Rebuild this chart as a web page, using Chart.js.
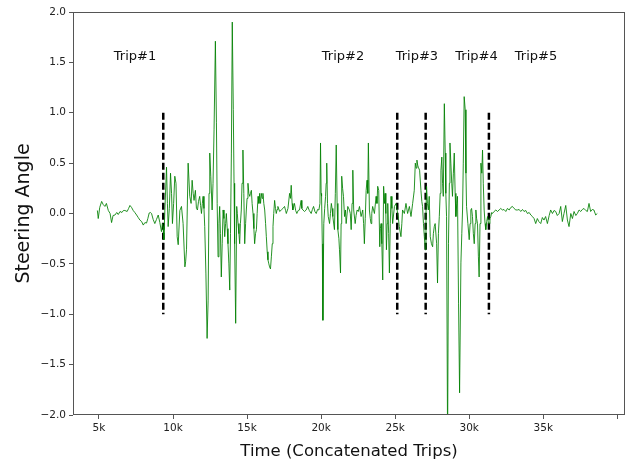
<!DOCTYPE html>
<html>
<head>
<meta charset="utf-8">
<script src="https://cdn.jsdelivr.net/npm/chart.js@4"></script>
<style>
  html, body { margin: 0; padding: 0; background: #fff; }
</style>
</head>
<body>
<canvas id="myChart" width="628" height="466"></canvas>
<script>
// time axis in thousands of samples
const timeK = [
  4.89, 4.95, 5.05, 5.18, 5.28, 5.4, 5.5, 5.63, 5.75, 5.85,
  5.95, 6.08, 6.2, 6.3, 6.42, 6.55, 6.65, 6.75, 6.9, 7.0,
  7.09, 7.2, 7.31, 7.42, 7.54, 7.65, 7.76, 7.88, 7.99, 8.1,
  8.21, 8.3, 8.39, 8.47, 8.55, 8.66, 8.77, 8.88, 9.0, 9.11,
  9.22, 9.28, 9.33, 9.38, 9.45, 9.56, 9.62, 9.67, 9.75, 9.83,
  9.9, 9.96, 10.04, 10.12, 10.2, 10.28, 10.35, 10.46, 10.57, 10.68,
  10.8, 10.85, 10.91, 11.02, 11.13, 11.22, 11.29, 11.36, 11.42, 11.51,
  11.58, 11.65, 11.72, 11.8, 11.86, 11.92, 11.98, 12.03, 12.09, 12.14,
  12.22, 12.3, 12.37, 12.43, 12.48, 12.55, 12.64, 12.7, 12.77, 12.86,
  12.93, 12.98, 13.04, 13.1, 13.15, 13.2, 13.26, 13.32, 13.38, 13.44,
  13.49, 13.55, 13.6, 13.66, 13.71, 13.77, 13.83, 13.88, 13.94, 14.0,
  14.07, 14.12, 14.16, 14.23, 14.3, 14.34, 14.39, 14.45, 14.5, 14.55,
  14.61, 14.66, 14.72, 14.78, 14.84, 14.9, 14.95, 15.0, 15.06, 15.12,
  15.18, 15.23, 15.29, 15.34, 15.4, 15.46, 15.51, 15.57, 15.63, 15.68,
  15.74, 15.8, 15.85, 15.91, 15.96, 16.02, 16.07, 16.13, 16.19, 16.25,
  16.3, 16.36, 16.41, 16.47, 16.52, 16.58, 16.64, 16.7, 16.75, 16.8,
  16.86, 16.92, 16.97, 17.03, 17.08, 17.2, 17.31, 17.42, 17.53, 17.6,
  17.65, 17.76, 17.87, 17.93, 17.98, 18.04, 18.09, 18.2, 18.28, 18.36,
  18.45, 18.54, 18.65, 18.7, 18.77, 18.88, 18.99, 19.1, 19.2, 19.33,
  19.41, 19.49, 19.58, 19.67, 19.76, 19.85, 19.92, 19.96, 20.0, 20.03,
  20.08, 20.12, 20.18, 20.24, 20.3, 20.34, 20.38, 20.43, 20.48, 20.57,
  20.63, 20.69, 20.74, 20.79, 20.9, 20.96, 21.02, 21.08, 21.13, 21.2,
  21.24, 21.31, 21.35, 21.39, 21.45, 21.51, 21.58, 21.64, 21.69, 21.8,
  21.91, 21.97, 22.03, 22.09, 22.14, 22.2, 22.3, 22.36, 22.43, 22.51,
  22.59, 22.7, 22.81, 22.87, 22.92, 22.98, 23.04, 23.1, 23.15, 23.19,
  23.26, 23.32, 23.37, 23.42, 23.48, 23.6, 23.71, 23.77, 23.82, 23.89,
  23.96, 24.0, 24.05, 24.1, 24.16, 24.22, 24.28, 24.32, 24.37, 24.41,
  24.46, 24.5, 24.56, 24.61, 24.67, 24.72, 24.78, 24.83, 24.95, 25.06,
  25.17, 25.22, 25.28, 25.39, 25.45, 25.5, 25.62, 25.73, 25.84, 25.96,
  26.07, 26.18, 26.29, 26.36, 26.42, 26.47, 26.52, 26.56, 26.65, 26.74,
  26.8, 26.85, 26.91, 26.97, 27.03, 27.08, 27.12, 27.18, 27.24, 27.3,
  27.37, 27.45, 27.53, 27.58, 27.64, 27.7, 27.75, 27.8, 27.86, 27.92,
  27.98, 28.04, 28.09, 28.15, 28.2, 28.25, 28.32, 28.38, 28.42, 28.47,
  28.54, 28.6, 28.66, 28.7, 28.76, 28.82, 28.87, 28.93, 28.99, 29.05,
  29.1, 29.16, 29.21, 29.28, 29.35, 29.44, 29.5, 29.55, 29.6, 29.66,
  29.73, 29.78, 29.82, 29.91, 30.0, 30.06, 30.11, 30.16, 30.22, 30.28,
  30.34, 30.4, 30.45, 30.5, 30.56, 30.62, 30.67, 30.73, 30.79, 30.85,
  30.9, 30.95, 31.01, 31.07, 31.12, 31.18, 31.24, 31.3, 31.35, 31.4,
  31.46, 31.52, 31.57, 31.68, 31.8, 31.91, 32.02, 32.13, 32.24, 32.35,
  32.47, 32.58, 32.7, 32.81, 32.92, 33.03, 33.15, 33.26, 33.37, 33.48,
  33.6, 33.7, 33.82, 33.93, 34.05, 34.16, 34.27, 34.38, 34.49, 34.6,
  34.7, 34.83, 34.94, 35.05, 35.16, 35.28, 35.4, 35.5, 35.62, 35.73,
  35.84, 35.95, 36.07, 36.18, 36.29, 36.4, 36.52, 36.63, 36.74, 36.86,
  36.97, 37.08, 37.2, 37.3, 37.42, 37.53, 37.64, 37.75, 37.87, 37.98,
  38.09, 38.2, 38.31, 38.42, 38.54, 38.65
];

const steering = [
  0.03, -0.05, 0.06, 0.12, 0.09, 0.07, 0.1, 0.03, 0, -0.09,
  -0.02, -0.015, 0.01, -0.01, 0.02, 0.01, 0.03, 0.03, 0.02, 0.05,
  0.08, 0.06, 0.03, 0.01, -0.015, -0.04, -0.065, -0.08, -0.115, -0.09,
  -0.095, -0.05, 0.005, 0.01, 0, -0.06, -0.1, -0.06, -0.015, -0.09,
  -0.18, -0.1, -0.13, -0.26, 0.035, 0.46, 0.1, -0.13, 0.05, 0.4,
  0.2, -0.1, 0.1, 0.37, 0.3, -0.23, -0.31, 0.03, 0.07, -0.1,
  -0.53, -0.48, -0.36, 0.5, 0.17, 0.1, 0.33, 0.2, 0.13, 0.23,
  0.05, 0.035, 0.12, 0.17, 0.08, 0, 0.1, 0.17, 0.05, -0.13,
  -0.6, -1.24, -0.86, 0.2, 0.6, 0.37, 0.035, 0.3, 0.83, 1.71,
  0.9, 0.1, -0.43, -0.1, 0.07, -0.2, -0.63, -0.3, 0.035, -0.05,
  -0.23, -0.1, 0, -0.15, -0.3, -0.5, -0.76, -0.2, 0.6, 1.9,
  1.03, 0.3, -0.3, -1.09, 0.07, 0, -0.1, -0.2, -0.3, -0.1,
  0.035, 0.3, 0.63, 0.2, -0.3, -0.1, 0.035, 0.15, 0.3, 0.2,
  0.17, 0.2, 0.23, 0.1, 0, -0.15, -0.3, -0.2, -0.16, 0,
  0.17, 0.1, 0.2, 0.1, 0.2, 0.15, 0.2, 0.1, 0.035, -0.1,
  -0.23, -0.38, -0.46, -0.5, -0.53, -0.55, -0.43, -0.3, -0.13, 0,
  0.13, 0.05, 0, 0.04, 0.07, 0.02, 0.035, 0.05, 0.07, 0.03,
  0, 0.05, 0.2, 0.15, 0.28, 0.1, 0.035, 0.1, 0.03, 0,
  0.03, 0.035, 0.13, 0.05, 0.035, 0.02, 0.035, 0.07, 0.03, 0,
  0.04, 0.07, 0.02, 0, 0.04, 0.035, 0.1, 0.7, 0.2, 0.17,
  -0.3, -1.06, -0.1, 0.05, 0.17, 0.3, 0.5, 0.1, -0.03, -0.1,
  0, 0.1, 0.05, -0.03, -0.16, 0.2, 0.68, 0.1, -0.16, -0.25,
  -0.36, -0.59, -0.1, 0.37, 0.25, 0.17, -0.03, 0.035, -0.1, 0.07,
  0.035, 0, -0.16, 0.1, 0.43, 0.035, -0.1, -0.02, 0.035, 0.02,
  0.07, -0.03, 0.035, -0.1, -0.3, -0.05, 0.23, 0.33, 0.2, 0.7,
  0.035, -0.05, -0.1, 0, 0.07, 0, 0.17, 0.1, 0.27, 0.23,
  -0.33, -0.15, -0.1, -0.3, -0.66, 0.27, 0.1, 0.2, 0, -0.36,
  -0.1, 0.1, -0.2, -0.59, -0.1, 0.17, 0.05, -0.1, 0.07, 0.1,
  0, -0.05, -0.13, -0.23, -0.1, 0.035, 0, 0.1, 0, 0.07,
  -0.03, 0.1, 0.23, 0.5, 0.45, 0.53, 0.48, 0.46, 0.43, 0.23,
  0.12, 0.07, -0.1, -0.23, -0.36, 0, 0.27, 0.1, 0.035, 0.17,
  -0.23, -0.3, -0.33, -0.2, -0.13, -0.1, -0.1, -0.3, -0.69, -0.2,
  -0.03, 0.2, 0.43, 0.56, 0.3, 0.17, 1.09, 0.6, 0.2, -0.03,
  -2.3, -0.3, 0.3, 0.7, 0.5, 0.3, 0.17, 0.4, 0.6, 0.2,
  -0.03, 0.1, 0.17, -0.89, -1.78, -0.49, -0.2, 0.035, 0.5, 1.16,
  1.03, 0.4, 0.07, -0.1, -0.26, -0.1, 0.035, 0.05, -0.03, -0.2,
  -0.3, -0.1, 0.035, -0.05, -0.1, -0.43, -0.63, -0.1, 0.5, 0.4,
  0.63, 0.3, 0.035, -0.1, -0.16, -0.08, -0.03, -0.1, -0.1, -0.05,
  -0.03, 0.01, 0, 0.02, 0.035, 0.02, 0.035, 0.05, 0.035, 0.04,
  0.02, 0.05, 0.035, 0.06, 0.07, 0.05, 0.035, 0.035, 0.04, 0.02,
  0.04, 0.02, 0.03, 0, 0.01, -0.015, -0.03, -0.05, -0.1, -0.05,
  -0.08, -0.1, -0.04, -0.065, -0.03, -0.1, -0.02, 0.035, 0, 0.03,
  0.02, -0.02, 0, 0.07, -0.08, 0, 0.08, -0.065, -0.13, 0,
  -0.05, 0.02, -0.02, 0, 0.035, 0.02, 0.04, 0.05, 0.03, 0.02,
  0.1, 0.02, 0.04, 0.035, -0.015, 0
];

const tripBreaksK = [9.34, 25.14, 27.06, 31.33];
const tripNames = ['Trip#1', 'Trip#2', 'Trip#3', 'Trip#4', 'Trip#5'];
const tripLabelK = [7.43, 21.48, 26.47, 30.49, 34.51];
const tripLabelY = 1.56;

const xTickValues = [5, 10, 15, 20, 25, 30, 35, 40];
const xTickLabels = ['5k', '10k', '15k', '20k', '25k', '30k', '35k', ''];
const yTickValues = [-2, -1.5, -1, -0.5, 0, 0.5, 1, 1.5, 2];
const yTickLabels = ['\u22122.0', '\u22121.5', '\u22121.0', '\u22120.5', '0.0', '0.5', '1.0', '1.5', '2.0'];

const FONT = 'DejaVu Sans';

const lineData = timeK.map((t, i) => ({ x: t, y: steering[i] }));

const breakSets = tripBreaksK.map(b => ({
  data: [{ x: b, y: 1 }, { x: b, y: -1 }],
  borderColor: '#000',
  borderWidth: 2.5,
  borderDash: [7, 3],
  pointRadius: 0,
  fill: false
}));

const overlay = {
  id: 'overlay',
  afterDatasetsDraw(chart) {
    const { ctx, chartArea: a, scales: { x, y } } = chart;
    ctx.save();
    ctx.strokeStyle = '#555';
    ctx.lineWidth = 1;
    ctx.strokeRect(a.left + 0.5, a.top + 0.5, a.right - a.left - 1, a.bottom - a.top - 1);
    ctx.fillStyle = '#111';
    ctx.font = `13px "${FONT}"`;
    ctx.textAlign = 'center';
    ctx.textBaseline = 'middle';
    tripNames.forEach((name, i) => {
      ctx.fillText(name, x.getPixelForValue(tripLabelK[i]), y.getPixelForValue(tripLabelY));
    });
    ctx.restore();
  }
};

const ctx = document.getElementById('myChart');

new Chart(ctx, {
  type: 'line',
  data: {
    datasets: [{
      data: lineData,
      borderColor: 'rgba(0,128,0,0.85)',
      borderWidth: 1,
      pointRadius: 0,
      tension: 0,
      fill: false
    }, ...breakSets]
  },
  options: {
    responsive: false,
    animation: false,
    layout: { padding: { top: 12, right: 3, left: 0, bottom: 0 } },
    plugins: { legend: { display: false }, tooltip: { enabled: false } },
    scales: {
      x: {
        type: 'linear',
        min: 3.245,
        max: 40.52,
        afterBuildTicks: s => { s.ticks = xTickValues.map(v => ({ value: v })); },
        afterFit: s => { s.height = 51; },
        grid: { drawOnChartArea: false, drawTicks: true, tickLength: 4, color: '#555' },
        border: { display: false },
        ticks: {
          autoSkip: false,
          maxRotation: 0,
          padding: 3,
          color: '#222',
          font: { family: FONT, size: 10.5 },
          callback: v => xTickLabels[xTickValues.indexOf(v)] ?? ''
        },
        title: {
          display: true,
          text: 'Time (Concatenated Trips)',
          color: '#111',
          font: { family: FONT, size: 16.5 },
          padding: { top: 0, bottom: 4 }
        }
      },
      y: {
        min: -2,
        max: 2,
        afterBuildTicks: s => { s.ticks = yTickValues.map(v => ({ value: v })); },
        afterFit: s => { s.width = 73; },
        grid: { drawOnChartArea: false, drawTicks: true, tickLength: 4, color: '#555' },
        border: { display: false },
        ticks: {
          autoSkip: false,
          padding: 3,
          color: '#222',
          font: { family: FONT, size: 10.5 },
          callback: v => yTickLabels[yTickValues.indexOf(v)] ?? ''
        },
        title: {
          display: true,
          text: 'Steering Angle',
          color: '#111',
          font: { family: FONT, size: 19 },
          padding: { top: 13, bottom: 0 }
        }
      }
    }
  },
  plugins: [overlay]
});
</script>
</body>
</html>
